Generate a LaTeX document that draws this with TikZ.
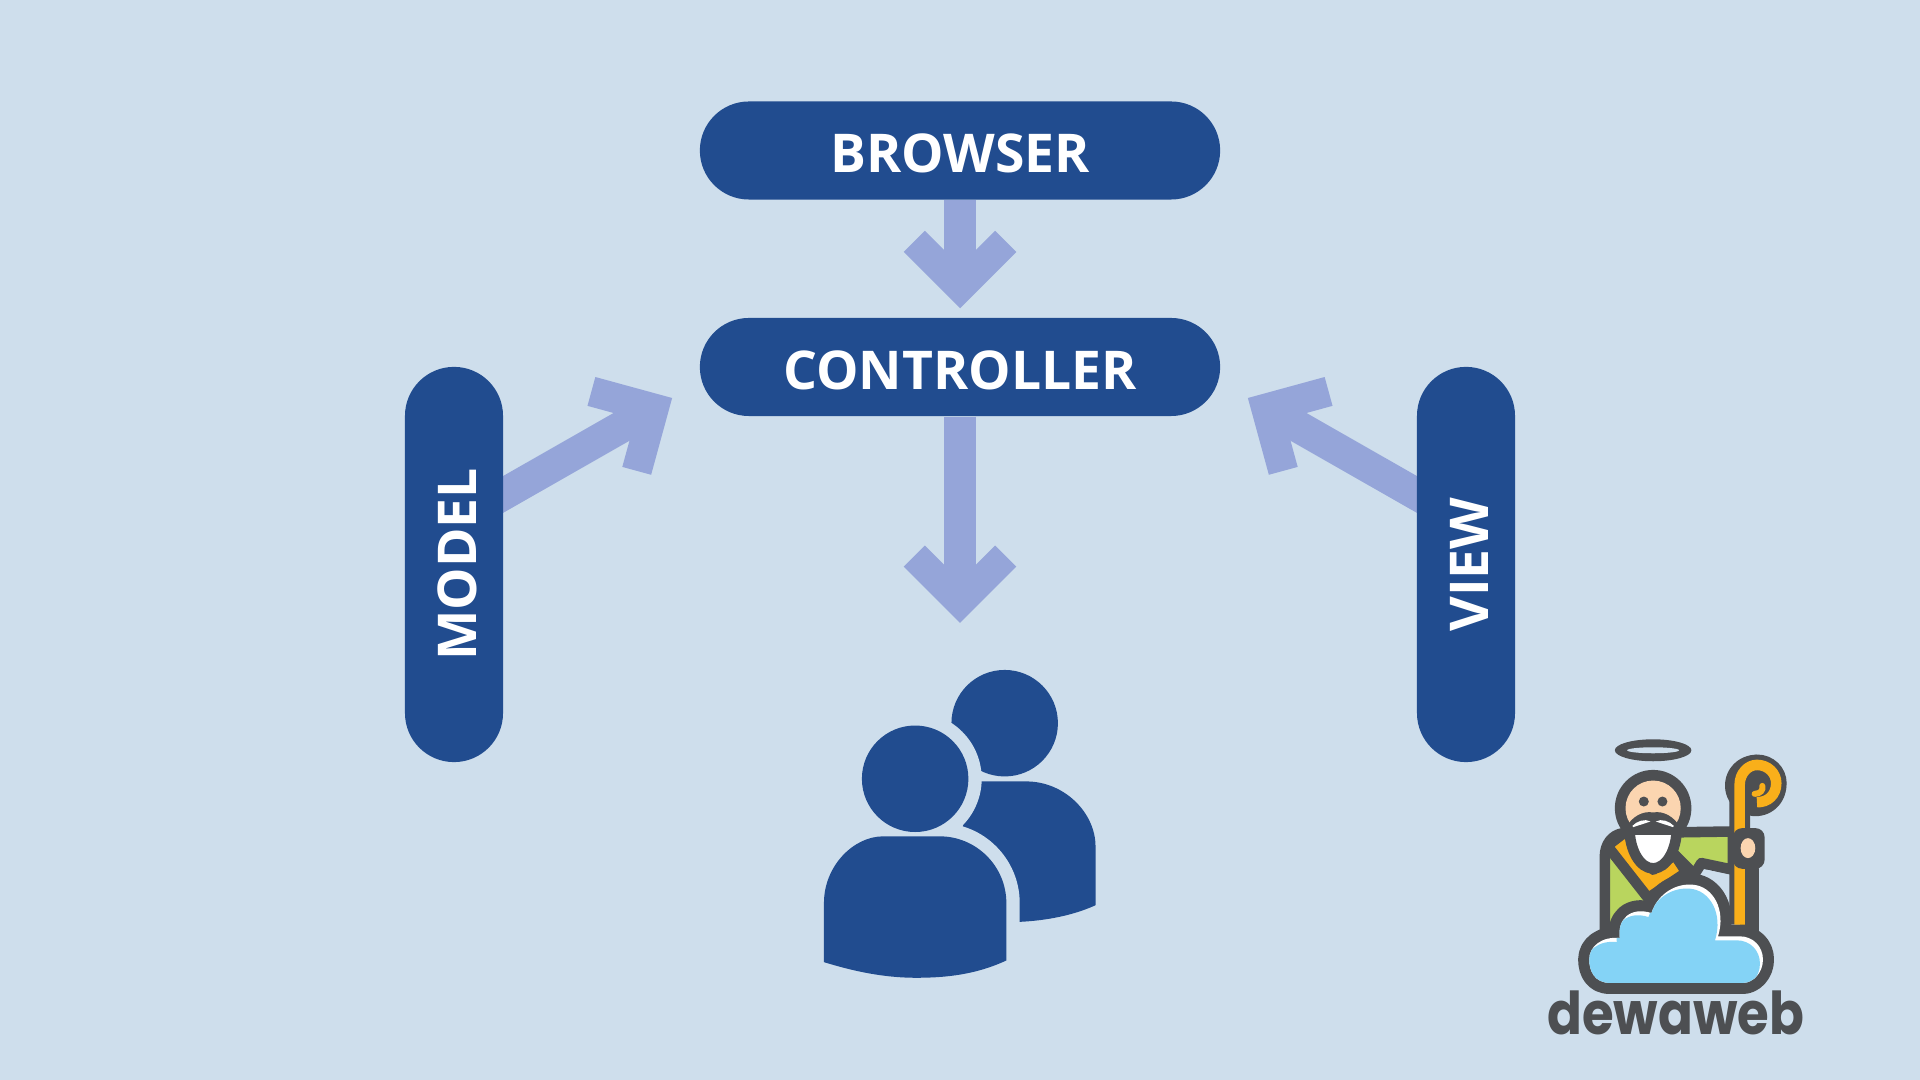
\documentclass[tikz,border=0pt]{standalone}
\usepackage{fontspec}
\usepackage{tikz}
\usetikzlibrary{arrows.meta}
\usetikzlibrary{backgrounds}
\setmainfont{Open Sans}
\newfontfamily\logofont{Poppins}
\definecolor{paper}{HTML}{CEDEEC}
\definecolor{pillblue}{HTML}{214C8F}
\definecolor{arrowblue}{HTML}{95A5D9}
\definecolor{logogray}{HTML}{4D4F52}
\definecolor{logoorange}{HTML}{F9AF1A}
\definecolor{logogreen}{HTML}{B9D55E}
\definecolor{logoskin}{HTML}{FBD5B0}
\definecolor{logosky}{HTML}{84D3F6}
\tikzset{
  pill/.style={fill=pillblue, text=white, rounded corners=0.49cm, minimum height=0.98cm, inner sep=0pt, text height=12.7pt, text depth=0pt, font=\bfseries\fontsize{15.2}{18}\selectfont},
  flowarrow/.style={draw=arrowblue, line width=9.1pt, -{Straight Barb[length=13pt,width=26pt,line width=8.5pt]}},
  gap/.style={draw=paper, line width=7.6pt},
  ink/.style={draw=logogray, line width=3pt, line join=round}
}
\newcommand{\cloudpath}{(270,790) .. controls (225,790) and (208,755) .. (208,720)
  .. controls (208,680) and (245,650) .. (300,655)
  .. controls (292,600) and (330,560) .. (395,580)
  .. controls (415,520) and (470,490) .. (520,495)
  .. controls (580,500) and (620,570) .. (595,650)
  -- (660,650)
  .. controls (700,650) and (730,680) .. (730,720)
  .. controls (730,760) and (700,790) .. (670,790) -- cycle}
\newcommand{\crookpath}{(660,615) -- (660,195) .. controls (660,160) and (685,135) .. (712,135)
  .. controls (745,135) and (770,160) .. (770,190)
  .. controls (770,225) and (745,248) .. (712,247)}
\newcommand{\torsopath}{(72,968) -- (72,790) .. controls (72,680) and (160,590) .. (250,590) -- (420,590)
  .. controls (530,590) and (620,680) .. (620,790) -- (620,963)
  .. controls (530,1005) and (440,1015) .. (350,1015) .. controls (250,1015) and (160,995) .. (72,968) -- cycle}
\begin{document}
\begin{tikzpicture}[x=0.01cm, y=-0.01cm]
  \node [pill, minimum width=5.2cm] (browser) at (960, 150.5) {BROWSER};
  \node [pill, minimum width=5.2cm] (controller) at (960, 367) {CONTROLLER};
  \node [pill, minimum width=3.95cm, rotate=90] (model) at (454, 564.5) {MODEL};
  \node [pill, minimum width=3.95cm, rotate=90] (view) at (1466, 564.5) {VIEW};
  \coordinate (crowd) at (960, 623);

  \begin{scope}[on background layer]
    \fill [paper] (0, 0) rectangle (1920, 1080);
    \draw [flowarrow] (browser.south) -- ([yshift=0.09cm]controller.north);
    \draw [flowarrow] (controller.south) -- (crowd);
    \draw [flowarrow] ([yshift=0.42cm]model.center) -- ([xshift=-0.27cm,yshift=-0.31cm]controller.west);
    \draw [flowarrow] ([yshift=0.42cm]view.center) -- ([xshift=0.27cm,yshift=-0.31cm]controller.east);
  \end{scope}

  \begin{scope}[shift={(800, 640)}, x=0.00333cm, y=-0.00333cm]
    \fill [pillblue] (615, 250) circle (160);
    \fill [pillblue] (520, 425) -- (680, 425) .. controls (795, 425) and (888, 520) .. (888, 620)
      -- (888, 797) .. controls (820, 828) and (740, 843) .. (660, 847) -- (620, 847) -- (480, 600) -- cycle;
    \fill [paper] (346, 417) circle (200);
    \draw [gap] \torsopath;
    \fill [pillblue] \torsopath;
    \fill [pillblue] (346, 417) circle (160);
  \end{scope}

  \begin{scope}[shift={(1520, 720)}, x=0.00333cm, y=-0.00333cm]
    \fill [logogray] (400, 91) ellipse (115 and 33);
    \fill [paper] (400, 91) ellipse (78 and 9);
    \draw [ink, fill=logogreen] (255, 640) -- (255, 410) .. controls (255, 375) and (275, 345) .. (310, 340)
      -- (640, 335) -- (640, 450) -- (545, 430) -- (520, 470) -- (255, 640);
    \fill [paper] (562, 450) -- (620, 465) -- (620, 620) -- (540, 540) -- cycle;
    \draw [ink, fill=logoorange] (262, 378) -- (318, 335) -- (400, 450) -- (465, 405) -- (500, 458) -- (385, 535) -- cycle;
    \draw [ink] (465, 405) -- (530, 470);
    \draw [logogray, line width=5.6pt, line cap=round] (690, 450) -- (690, 640);
    \fill [logogray] (708, 197) circle (92);
    \draw [logogray, line width=5.9pt] \crookpath;
    \draw [logoorange, line width=3pt] \crookpath;
    \draw [logoorange, line width=1.7pt, line cap=round] (705, 222) .. controls (722, 222) and (732, 210) .. (728, 198);
    \fill [logogray, rounded corners=0.09cm] (640, 325) rectangle (735, 447);
    \fill [logoskin] (685, 385) ellipse (22 and 30);
    \fill [logogray] (400, 265) circle (115);
    \fill [logoskin] (400, 265) circle (83);
    \fill [logogray] (372, 245) circle (15);
    \fill [logogray] (428, 245) circle (15);
    \fill [logogray] (318, 325) .. controls (335, 290) and (370, 272) .. (400, 278)
      .. controls (430, 272) and (465, 290) .. (482, 325) -- (455, 345) -- (345, 345) -- cycle;
    \draw [ink, fill=white] (329, 325) -- (471, 325) .. controls (471, 390) and (440, 446) .. (400, 446)
      .. controls (360, 446) and (329, 390) .. (329, 325) -- cycle;
    \fill [logogray] (329, 325) -- (400, 325) -- (400, 345) -- (345, 345) -- cycle;
    \fill [logogray] (471, 325) -- (400, 325) -- (400, 345) -- (455, 345) -- cycle;
    \fill [white] (338, 318) .. controls (350, 305) and (375, 295) .. (392, 305) -- (340, 322) -- cycle;
    \fill [white] (462, 318) .. controls (450, 305) and (425, 295) .. (408, 305) -- (460, 322) -- cycle;
    \draw [logogray, line width=6.3pt, line join=round] \cloudpath;
    \fill [white] \cloudpath;
    \begin{scope}
      \clip \cloudpath;
      \fill [logosky, shift={(-9, 12)}] \cloudpath;
    \end{scope}
    \node [inner sep=0pt, text=logogray, font=\logofont\bfseries\fontsize{14.6}{16}\selectfont] (brand) at (468, 880) {\scalebox{1}[1.15]{dewaweb}};
  \end{scope}
\end{tikzpicture}
\end{document}
